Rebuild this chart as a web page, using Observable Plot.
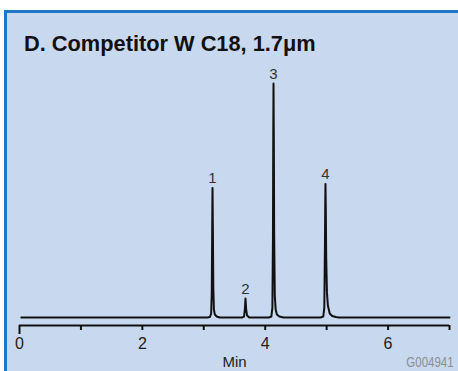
<!DOCTYPE html>
<html>
<head>
<meta charset="utf-8">
<script src="https://cdn.jsdelivr.net/npm/d3@7"></script>
<script src="https://cdn.jsdelivr.net/npm/@observablehq/plot@0.6"></script>
<style>
  html, body { margin: 0; padding: 0; background: #ffffff; }
  #wrap { position: relative; width: 458px; height: 371px; overflow: hidden; }
  #panel { position: absolute; left: 4px; top: 10px; right: 0; bottom: 0;
           background: #c8d8ee; border-left: 3px solid #1d77c6; border-top: 3px solid #1d77c6; }
  #title { position: absolute; left: 24px; top: 31px; font-family: "Liberation Sans", sans-serif;
           font-size: 22px; font-weight: 700; color: #111; white-space: nowrap;
           transform: scaleX(0.99); transform-origin: left center; }
  #code { position: absolute; right: 4px; top: 354px; font-family: "Liberation Sans", sans-serif;
          font-size: 14px; color: #8a8f96; transform: scaleX(0.82); transform-origin: right center; }
  #chart { position: absolute; left: 0; top: 0; }
  #chart svg { background: transparent; }
</style>
</head>
<body>
<div id="wrap">
  <div id="panel"></div>
  <div id="title">D. Competitor W C18, 1.7μm</div>
  <div id="chart"></div>
  <div id="code">G004941</div>
</div>
<script>
// Chromatogram trace (time in min, signal in arbitrary units)
const traceTime = [
  0.03, 1.0, 2.0, 3.06,
  3.10, 3.12, 3.13, 3.137, 3.142, 3.148, 3.155, 3.165, 3.18, 3.21, 3.26,
  3.62, 3.655, 3.668, 3.679, 3.69, 3.705, 3.74,
  4.06, 4.10, 4.117, 4.126, 4.131, 4.135, 4.14, 4.146, 4.156, 4.17, 4.19, 4.23, 4.30,
  4.90, 4.945, 4.962, 4.972, 4.977, 4.981, 4.986, 4.993, 5.005, 5.02, 5.05, 5.09, 5.15, 5.2,
  6.0, 7.0
];
const traceSignal = [
  0, 0, 0, 0,
  0.5, 4, 25, 90, 130, 90, 30, 8, 3, 1, 0,
  0, 1, 8, 19, 8, 2, 0,
  0, 1, 10, 80, 180, 235, 180, 80, 22, 8, 3, 1, 0,
  0, 1, 10, 70, 110, 134, 110, 60, 25, 12, 4, 1.5, 0.5, 0,
  0, 0
];
// Peak labels
const peakLabels = ["1", "2", "3", "4"];
const peakTimes = [3.142, 3.679, 4.135, 4.981];
const peakHeights = [130, 19, 235, 134];
// Axis ticks
const majorTicks = [2, 4, 6];
const minorTicks = [1, 3, 5, 7];

const trace = traceTime.map((t, i) => ({t, s: traceSignal[i]}));
const peaks = peakLabels.map((l, i) => ({l, t: peakTimes[i], s: peakHeights[i]}));

const font = '"Liberation Sans", sans-serif';

const chart = Plot.plot({
  width: 458,
  height: 371,
  marginLeft: 19,
  marginRight: 9,
  marginTop: 83,
  marginBottom: 46,
  style: {background: "transparent", fontFamily: font, color: "#222"},
  x: {domain: [0, 7]},
  y: {domain: [-8, 235], axis: null},
  marks: [
    Plot.ruleY([-8], {x1: 0, x2: 7, stroke: "#111", strokeWidth: 2}),
    Plot.axisX([0], {tickSize: 9, strokeWidth: 2, stroke: "#111", tickPadding: 3, fontSize: 16, label: null}),
    Plot.axisX(majorTicks, {tickSize: 5, strokeWidth: 2, stroke: "#111", tickPadding: 7, fontSize: 16, label: null}),
    Plot.axisX(minorTicks, {tickSize: 5, strokeWidth: 2, stroke: "#111", tickFormat: () => "", label: null}),
    Plot.text(["Min"], {frameAnchor: "bottom", dy: 41, fontSize: 15, fill: "#222"}),
    Plot.line(trace, {x: "t", y: "s", stroke: "#111", strokeWidth: 2}),
    Plot.text(peaks, {x: "t", y: "s", text: "l", lineAnchor: "bottom", dy: -5, fontSize: 15, fill: "#333"})
  ]
});
document.getElementById("chart").appendChild(chart);
</script>
</body>
</html>
